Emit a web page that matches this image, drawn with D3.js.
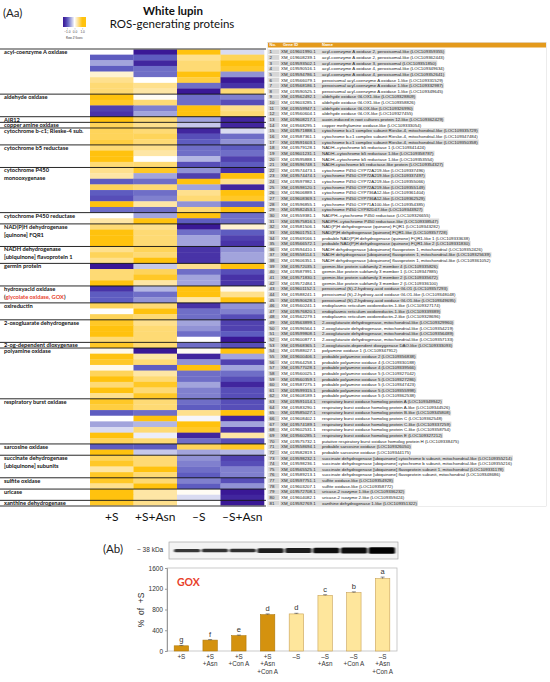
<!DOCTYPE html>
<html>
<head>
<meta charset="utf-8">
<script src="https://cdn.jsdelivr.net/npm/d3@7"></script>
<style>
  body { margin: 0; background: #fff; }
  svg { display: block; font-family: Lato, "Open Sans", sans-serif; }
</style>
</head>
<body>
<svg id="chart" width="550" height="682"></svg>
<script>
// ---- data ----
var heatColumns = ["+S", "+S+Asn", "\u2013S", "\u2013S+Asn"];

var groupLabels = [
  ["acyl-coenzyme A oxidase"], ["aldehyde oxidase"], ["AIR12"], ["copper amine oxidase"],
  ["cytochrome b-c1; Rieske-4 sub."], ["cytochrome b5 reductase"],
  ["cytochrome P450", "monooxygenase"], ["cytochrome P450 reductase"],
  ["NAD(P)H dehydrogenase", "[quinone] FQR1"], ["NADH dehydrogenase", "[ubiquinone] flavoprotein 1"],
  ["germin protein"], ["hydroxyacid oxidase", "(glycolate oxidase, GOX)"], ["oxireductin"],
  ["2-oxogluarate dehydrogenase"], ["2-og-dependent dioxygenase"], ["polyamine oxidase"],
  ["respiratory burst oxidase"], ["sarcosine oxidase"],
  ["succinate dehydrogenase", "[ubiquinone] subunits"], ["sulfite oxidase"], ["uricase"],
  ["xanthine dehydrogenase"]
];
var groupSizes = [8, 4, 1, 1, 3, 4, 8, 2, 4, 3, 4, 3, 3, 4, 1, 9, 8, 2, 4, 2, 2, 1];
var redLabel = "glycolate oxidase, GOX";

var geneIds = [
  "XM_019601990.1", "XM_019608239.1", "XM_019593502.1", "XM_019590516.1", "XM_019594786.1",
  "XM_019566079.1", "XM_019568186.1", "XM_019590525.1", "XM_019562492.1", "XM_019603285.1",
  "XM_019559947.1", "XM_019560604.1", "XM_019608217.1", "XM_019568295.1", "XM_019571888.1",
  "XM_019587361.1", "XM_019591603.1", "XM_019579128.1", "XM_019601231.1", "XM_019595888.1",
  "XM_019596748.1", "XM_019574473.1", "XM_019574474.1", "XM_019597982.1", "XM_019598120.1",
  "XM_019606889.1", "XM_019608369.1", "XM_019596855.1", "XM_019582453.1", "XM_019559381.1",
  "XM_019575816.1", "XM_019581506.1", "XM_019601751.1", "XM_019569166.1", "XM_019566572.1",
  "XM_019594410.1", "XM_019558114.1", "XM_019606351.1", "XM_019572035.1", "XM_019587991.1",
  "XM_019571830.1", "XM_019572484.1", "XM_019601152.1", "XM_019588241.1", "XM_019590628.1",
  "XM_019560241.1", "XM_019576820.1", "XM_019562279.1", "XM_019563899.1", "XM_019596564.1",
  "XM_019599808.1", "XM_019600877.1", "XM_019568365.1", "XM_019588027.1", "XM_019600406.1",
  "XM_019564258.1", "XM_019577028.1", "XM_019560025.1", "XM_019560359.1", "XM_019587275.1",
  "XM_019599315.1", "XM_019608189.1", "XM_019591014.1", "XM_019583290.1", "XM_019585027.1",
  "XM_019608402.1", "XM_019574189.1", "XM_019602531.1", "XM_019560285.1", "XM_019575732.1",
  "XM_019558694.1", "XM_019582819.1", "XM_019598232.1", "XM_019598236.1", "XM_019565525.1",
  "XM_019589213.1", "XM_019597751.1", "XM_019603207.1", "XM_019572708.1", "XM_019604082.1",
  "XM_019592769.1"
];

var geneNames = [
  "acyl-coenzyme A oxidase 2, peroxisomal-like (LOC109359355)",
  "acyl-coenzyme A oxidase 2, peroxisomal-like (LOC109362443)",
  "acyl-coenzyme A oxidase 3, peroxisomal (LOC109351850)",
  "acyl-coenzyme A oxidase 4, peroxisomal-like (LOC109349634)",
  "acyl-coenzyme A oxidase 4, peroxisomal-like (LOC109352641)",
  "peroxisomal acyl-coenzyme A oxidase 1-like (LOC109331529)",
  "peroxisomal acyl-coenzyme A oxidase 1-like (LOC109332987)",
  "peroxisomal acyl-coenzyme A oxidase 1-like (LOC109349645)",
  "aldehyde oxidase GLOX1-like (LOC109328809)",
  "aldehyde oxidase GLOX1-like (LOC109358826)",
  "aldehyde oxidase GLOX-like (LOC109326990)",
  "aldehyde oxidase GLOX-like (LOC109327455)",
  "auxin-induced in root cultures protein 12-like (LOC109362429)",
  "copper methylamine oxidase-like (LOC109333054)",
  "cytochrome b-c1 complex subunit Rieske-4, mitochondrial-like (LOC109335729)",
  "cytochrome b-c1 complex subunit Rieske-4, mitochondrial-like (LOC109347484)",
  "cytochrome b-c1 complex subunit Rieske-4, mitochondrial-like (LOC109350358)",
  "NADH--cytochrome b5 reductase 1 (LOC109341424)",
  "NADH--cytochrome b5 reductase 1-like (LOC109358787)",
  "NADH--cytochrome b5 reductase 1-like (LOC109353554)",
  "NADH-cytochrome b5 reductase-like protein (LOC109354327)",
  "cytochrome P450 CYP72A219-like (LOC109337496)",
  "cytochrome P450 CYP72A219-like (LOC109337497)",
  "cytochrome P450 CYP72A219-like (LOC109355066)",
  "cytochrome P450 CYP72A219-like (LOC109355149)",
  "cytochrome P450 CYP736A12-like (LOC109361404)",
  "cytochrome P450 CYP736A12-like (LOC109362529)",
  "cytochrome P450 CYP71A100-like (LOC109354385)",
  "cytochrome P450 CYP82D47-like (LOC109343927)",
  "NADPH--cytochrome P450 reductase (LOC109326655)",
  "NADPH--cytochrome P450 reductase-like (LOC109338547)",
  "NAD(P)H dehydrogenase (quinone) FQR1 (LOC109343282)",
  "NAD(P)H dehydrogenase [quinone] FQR1-like (LOC109357728)",
  "probable NAD(P)H dehydrogenase (quinone) FQR1-like 1 (LOC109333638)",
  "probable NAD(P)H dehydrogenase (quinone) FQR1-like 2 (LOC109331830)",
  "NADH dehydrogenase [ubiquinone] flavoprotein 1, mitochondrial (LOC109352426)",
  "NADH dehydrogenase [ubiquinone] flavoprotein 1, mitochondrial-like (LOC109325639)",
  "NADH dehydrogenase [ubiquinone] flavoprotein 1, mitochondrial-like (LOC109361052)",
  "germin-like protein subfamily 2 member 4 (LOC109335826)",
  "germin-like protein subfamily 3 member 1 (LOC109347885)",
  "germin-like protein subfamily 3 member 2 (LOC109335672)",
  "germin-like protein subfamily 3 member 2 (LOC109336100)",
  "peroxisomal (S)-2-hydroxy-acid oxidase GLO1 (LOC109357293)",
  "peroxisomal (S)-2-hydroxy-acid oxidase GLO1-like (LOC109348048)",
  "peroxisomal (S)-2-hydroxy-acid oxidase GLO1-like (LOC109349695)",
  "endoplasmic reticulum oxidoreductin-1-like (LOC109327174)",
  "endoplasmic reticulum oxidoreductin-1-like (LOC109339389)",
  "endoplasmic reticulum oxidoreductin-2-like (LOC109328696)",
  "2-oxoglutarate dehydrogenase, mitochondrial-like (LOC109329960)",
  "2-oxoglutarate dehydrogenase, mitochondrial-like (LOC109354219)",
  "2-oxoglutarate dehydrogenase, mitochondrial-like (LOC109356489)",
  "2-oxoglutarate dehydrogenase, mitochondrial-like (LOC109357133)",
  "2-oxoglutarate-dependent dioxygenase DAO-like (LOC109333093)",
  "polyamine oxidase 1 (LOC109347912)",
  "probable polyamine oxidase 2 (LOC109356838)",
  "probable polyamine oxidase 4 (LOC109330188)",
  "probable polyamine oxidase 4 (LOC109339566)",
  "probable polyamine oxidase 5 (LOC109327042)",
  "probable polyamine oxidase 5 (LOC109327286)",
  "probable polyamine oxidase 5 (LOC109347423)",
  "probable polyamine oxidase 5 (LOC109355998)",
  "probable polyamine oxidase 5 (LOC109362538)",
  "respiratory burst oxidase homolog protein A (LOC109349942)",
  "respiratory burst oxidase homolog protein A-like (LOC109344526)",
  "respiratory burst oxidase homolog protein B-like (LOC109345808)",
  "respiratory burst oxidase homolog protein C (LOC109362548)",
  "respiratory burst oxidase homolog protein C-like (LOC109337259)",
  "respiratory burst oxidase homolog protein C-like (LOC109358754)",
  "respiratory burst oxidase homolog protein E (LOC109327212)",
  "putative respiratory burst oxidase homolog protein H (LOC109338475)",
  "probable sarcosine oxidase (LOC109326050)",
  "probable sarcosine oxidase (LOC109344175)",
  "succinate dehydrogenase [ubiquinone] cytochrome b subunit, mitochondrial-like (LOC109355214)",
  "succinate dehydrogenase [ubiquinone] cytochrome b subunit, mitochondrial-like (LOC109355216)",
  "succinate dehydrogenase [ubiquinone] flavoprotein subunit 1, mitochondrial (LOC109331178)",
  "succinate dehydrogenase [ubiquinone] flavoprotein subunit, mitochondrial (LOC109348686)",
  "sulfite oxidase-like (LOC109354928)",
  "sulfite oxidase-like (LOC109358772)",
  "uricase-2 isozyme 1-like (LOC109336232)",
  "uricase-2 isozyme 2-like (LOC109359424)",
  "xanthine dehydrogenase 1-like (LOC109351322)"
];

// row z-scores, columns: +S, +S+Asn, -S, -S+Asn
var zValues = [
  [0, -1.4, 1.2, -0.2], [-0.9, -0.9, 0.5, 0.7], [-0.5, -1.3, 0.6, 1.0], [-0.9, -0.8, 0.6, 0.9],
  [0.2, -0.8, 1.2, -0.6], [0.5, 0, 0.8, -1.4], [0.6, 0.5, -0.8, -1.2], [0.6, 0.4, -1.4, 0.6],
  [1.2, 0.05, -0.8, -0.7], [0.9, 0.6, -0.8, -1.0], [-1.1, -0.7, 1.1, 0.5], [-1.2, -0.5, 1.0, 0.6],
  [1.0, 0.6, -0.5, -1.3], [0.7, 0.5, -0.3, -1.3], [0.7, 0.6, -1.3, -0.2], [0.7, 0.7, -1.0, -0.8],
  [0.8, 0.6, -0.9, -0.6], [0.6, 0.5, -0.8, -0.9], [1.2, 0.4, -0.8, -0.8], [1.2, 0, -0.4, -1.1],
  [0.6, 0.6, -1.0, -0.9], [0.5, 0.9, -0.6, -1.2], [0.4, -0.5, -1.1, 1.1], [-0.9, -0.8, 1.2, 0.5],
  [0.7, 0.6, -0.5, -1.3], [-0.9, -0.8, 0.5, 1.1], [-1.0, -0.7, 0.6, 0.9], [1.2, 0.4, -0.6, -0.9],
  [-0.8, -0.8, 0.6, 1.0], [0, -0.5, 1.1, -0.8], [0.4, 1.0, -0.9, -0.8], [0.6, 0.5, -1.4, 0.2],
  [1.1, 0.6, -0.8, -0.9], [1.1, 0.6, -0.5, -1.1], [1.0, 0.6, -0.5, -1.2], [0.5, 0.7, -1.2, -0.6],
  [0.7, 0.6, -1.2, -0.5], [0.5, 1.0, -1.2, -0.5], [-1.4, -0.3, 0.5, 1.0], [0.6, 0.7, -0.8, -1.0],
  [0.6, 0.9, -0.5, -1.2], [1.0, 0.4, -0.5, -1.2], [-1.2, -0.4, 1.1, 0.1], [-0.9, -0.8, 1.1, 0.5],
  [-0.9, -0.6, 0.4, 1.1], [0.7, 0.6, -1.2, -0.6], [0, 1.1, -0.8, -0.7], [0.7, 0.6, -0.8, -1.0],
  [0.9, 0.5, -0.5, -1.1], [1.0, 0.6, -0.6, -1.1], [1.0, 0.6, -0.8, -0.9], [0.6, 0.6, 0, -1.4],
  [0.9, 0.6, -0.8, -1.0], [0.1, -1.4, 0.05, 1.1], [1.0, 0.4, -1.3, -0.5], [0.9, 0.6, -0.6, -1.1],
  [0.1, -0.9, 1.2, -0.5], [0.7, 0.4, -0.8, -0.8], [1.0, 0.6, -0.8, -1.0], [0.6, 0.9, -0.5, -1.3],
  [1.0, 0.6, -0.7, -1.0], [0.5, 0.9, -0.7, -1.0], [0.9, 0.6, -0.8, -1.0], [0.8, 0.6, -0.9, -1.0],
  [-0.9, -0.8, 0.5, 1.0], [0, 1.1, -0.05, -1.3], [-0.5, -0.4, 1.2, -0.5], [-0.2, 0.6, 0.9, -1.2],
  [1.0, -0.1, -1.3, 0.4], [0.7, 0.6, -0.8, -1.0], [-0.9, -0.9, 0.7, 0.9], [1.2, -0.3, -0.5, -0.4],
  [0.7, 0.6, -0.6, -1.1], [0.9, 0.6, -0.7, -1.0], [0.4, 1.1, -0.8, -0.7], [0.9, 0.6, -0.9, -0.7],
  [0.9, 0.6, -0.7, -1.0], [0.5, 1.0, -0.9, -0.6], [1.0, 0.4, 0.05, -1.4], [1.0, 0.4, -0.2, -1.3],
  [0.9, 0.5, 0, -1.4]
];

var legendTicks = [-1, 0, 1];

var barConditions = ["+S", "+S\n+Asn", "+S\n+Con A", "+S\n+Asn\n+Con A",
                     "\u2013S", "\u2013S\n+Asn", "\u2013S\n+Con A", "\u2013S\n+Asn\n+Con A"];
var barValues = [100, 210, 295, 700, 715, 1070, 1125, 1395];
var barErrors = [8, 10, 12, 15, 12, 15, 15, 30];
var barLetters = ["g", "f", "e", "d", "d", "c", "b", "a"];
var barTicks = [0, 400, 800, 1200, 1600];

// ---- setup ----
var svg = d3.select("#chart");
var defs = svg.append("defs");

var color = d3.scaleLinear()
  .domain([-1.4, -0.9, -0.45, 0, 0.45, 1.0])
  .range(["#3a1896", "#5e5cc0", "#aaaddf", "#ffffff", "#fee39a", "#ffc20e"])
  .clamp(true);

// titles
svg.append("text").attr("x", 3).attr("y", 17).attr("font-size", 11.5).attr("fill", "#222").text("(Aa)");
svg.append("text").attr("x", 173).attr("y", 15).attr("text-anchor", "middle")
  .attr("font-size", 11.5).attr("font-weight", "bold").attr("fill", "#111").text("White lupin");
svg.append("text").attr("x", 172).attr("y", 28).attr("text-anchor", "middle")
  .attr("font-size", 11.5).attr("fill", "#111").text("ROS-generating proteins");

// color legend
var legendX = d3.scaleLinear().domain([-1.5, 1.5]).range([63, 86]);
var grad = defs.append("linearGradient").attr("id", "zgrad");
d3.range(-1.5, 1.51, 0.25).forEach(function(v){
  grad.append("stop").attr("offset", (v + 1.5) / 3).attr("stop-color", color(v));
});
svg.append("rect").attr("x", legendX(-1.5)).attr("y", 17).attr("width", legendX(1.5) - legendX(-1.5))
  .attr("height", 10).attr("fill", "url(#zgrad)");
var legendAxis = svg.append("g").attr("transform", "translate(0,28)")
  .call(d3.axisBottom(legendX).tickValues(legendTicks).tickSize(1.5).tickPadding(1));
legendAxis.select(".domain").remove();
legendAxis.selectAll("text").attr("font-size", 3.2).attr("fill", "#444");
legendAxis.selectAll("line").attr("stroke", "#666").attr("stroke-width", 0.3);
svg.append("text").attr("x", 74.5).attr("y", 39).attr("text-anchor", "middle")
  .attr("font-size", 3).attr("fill", "#444").text("Row Z-Score");

// ---- heatmap ----
var x = d3.scaleBand().domain(d3.range(heatColumns.length)).range([90, 264]);
var y = d3.scaleBand().domain(d3.range(zValues.length)).range([49, 506]);

var cells = svg.append("g");
zValues.forEach(function(row, i){
  cells.selectAll(null).data(row).enter().append("rect")
    .attr("x", function(d, j){ return x(j); })
    .attr("y", y(i))
    .attr("width", x.bandwidth() + 0.3)
    .attr("height", y.bandwidth() + 0.3)
    .attr("fill", function(d){ return color(d); });
});

// group starts
var groupStarts = [];
groupSizes.reduce(function(acc, n){ groupStarts.push(acc); return acc + n; }, 0);

var lines = svg.append("g");
groupStarts.forEach(function(s, k){
  if (k === 0) return;
  lines.append("line").attr("x1", 0).attr("x2", 266)
    .attr("y1", y(s)).attr("y2", y(s)).attr("stroke", "#111").attr("stroke-width", 0.9);
});
lines.append("line").attr("x1", 0).attr("x2", 266).attr("y1", y(0)).attr("y2", y(0))
  .attr("stroke", "#777").attr("stroke-width", 1.4);
lines.append("line").attr("x1", 0).attr("x2", 266).attr("y1", y.range()[1]).attr("y2", y.range()[1])
  .attr("stroke", "#777").attr("stroke-width", 1.4);

// group labels
var labels = svg.append("g").attr("font-size", 5.7).attr("font-weight", "bold").attr("fill", "#111");
groupLabels.forEach(function(lns, k){
  lns.forEach(function(t, li){
    var txt = labels.append("text").attr("x", 4).attr("y", y(groupStarts[k]) + 5 + li * 8);
    var p = t.indexOf(redLabel);
    if (p >= 0) {
      txt.append("tspan").text(t.slice(0, p));
      txt.append("tspan").attr("fill", "#e8412c").text(redLabel);
      txt.append("tspan").text(t.slice(p + redLabel.length));
    } else {
      txt.text(t);
    }
  });
});

// column labels
svg.append("g").selectAll("text").data(heatColumns).enter().append("text")
  .attr("x", function(d, j){ return x(j) + x.bandwidth() / 2; })
  .attr("y", 521)
  .attr("text-anchor", "middle")
  .attr("font-size", 12)
  .attr("fill", "#111")
  .text(function(d){ return d; });

// ---- gene table ----
var table = svg.append("g")
  .style("font-family", "'Liberation Sans', Arial, sans-serif")
  .attr("font-size", 4.4)
  .attr("fill", "#222");

table.append("rect").attr("x", 268).attr("y", 42.5).attr("width", 278).attr("height", 5)
  .attr("fill", "#e49a1c");
[["No.", 269.5], ["Gene ID", 283], ["Name", 322]].forEach(function(h){
  table.append("text").attr("x", h[1]).attr("y", 46.3).attr("fill", "#fff")
    .attr("font-weight", "bold").attr("font-size", 4).text(h[0]);
});

var rows = table.selectAll("g.row").data(geneIds).enter().append("g")
  .attr("class", "row")
  .attr("transform", function(d, i){ return "translate(0," + (y(i) + y.bandwidth() / 2) + ")"; });

rows.append("rect").attr("x", 268).attr("y", -2.6).attr("width", 11.5).attr("height", 5.2)
  .attr("fill", "#d6d6d6").attr("stroke", "#fff").attr("stroke-width", 0.4);
rows.append("text").attr("x", 269.5).attr("y", 1.5).text(function(d, i){ return i + 1; });
rows.append("text").attr("x", 281).attr("y", 1.5).text(function(d){ return d; });
rows.append("text").attr("class", "gname").attr("x", 322).attr("y", 1.5)
  .text(function(d, i){ return geneNames[i]; });

rows.each(function(d, i){
  if (i % 2 !== 0) return;
  var g = d3.select(this);
  var w = g.select(".gname").node().getComputedTextLength();
  g.insert("rect", "text:nth-of-type(2)")
    .attr("x", 279.5).attr("y", -2.6).attr("width", 322 + w + 1 - 279.5).attr("height", 5.2)
    .attr("fill", "#dcdcdc");
});

table.append("rect").attr("x", 267.5).attr("y", 42.5).attr("width", 279).attr("height", y.range()[1] - 42)
  .attr("fill", "none").attr("stroke", "#d0d0d0").attr("stroke-width", 0.4);

// ---- (Ab) western blot + bar chart ----
var bx = d3.scaleBand().domain(d3.range(barValues.length)).range([167, 397])
  .paddingInner(0.5).paddingOuter(0.25);
var by = d3.scaleLinear().domain([0, 1600]).range([651, 568]);

var ab = svg.append("g").style("font-family", "'Liberation Sans', Arial, sans-serif");

ab.append("text").attr("x", 103).attr("y", 553).attr("font-size", 11.5)
  .style("font-family", "Lato, sans-serif").attr("fill", "#222").text("(Ab)");
ab.append("text").attr("x", 137).attr("y", 552).attr("font-size", 6.5).attr("fill", "#333").text("~ 38 kDa");

// blot
var blur = defs.append("filter").attr("id", "blotblur")
  .attr("x", "-20%").attr("y", "-100%").attr("width", "140%").attr("height", "300%");
blur.append("feGaussianBlur").attr("stdDeviation", "1.2 0.6");

ab.append("rect").attr("x", 169).attr("y", 542).attr("width", 229).attr("height", 17)
  .attr("fill", "#f3f3f3").attr("stroke", "#9a9a9a").attr("stroke-width", 0.6);
var lane = d3.scaleBand().domain(d3.range(barValues.length)).range([173, 395]).paddingInner(0.02);
var bandH = d3.scaleLinear().domain([0, 1400]).range([3, 6.5]);
var bandO = d3.scaleLinear().domain([0, 1400]).range([0.75, 1]);
ab.append("g").attr("filter", "url(#blotblur)").selectAll("rect").data(barValues).enter().append("rect")
  .attr("x", function(d, i){ return lane(i) + 1; })
  .attr("width", lane.bandwidth() - 1)
  .attr("y", function(d){ return 550.5 - bandH(d) / 2; })
  .attr("height", function(d){ return bandH(d); })
  .attr("rx", 1.5)
  .attr("fill", "#000")
  .attr("opacity", function(d){ return bandO(d); });

// plot frame
ab.append("rect").attr("x", 167).attr("y", 568).attr("width", 230).attr("height", 83)
  .attr("fill", "none").attr("stroke", "#bdbdbd").attr("stroke-width", 0.8);

var yAxis = ab.append("g").attr("transform", "translate(167,0)")
  .call(d3.axisLeft(by).tickValues(barTicks).tickFormat(d3.format("d")).tickSize(2).tickPadding(2));
yAxis.select(".domain").attr("stroke", "#999");
yAxis.selectAll("line").attr("stroke", "#999");
yAxis.selectAll("text").attr("font-size", 6.5).attr("fill", "#333")
  .style("font-family", "'Liberation Sans', Arial, sans-serif");

ab.append("text").attr("transform", "translate(144,610) rotate(-90)")
  .attr("text-anchor", "middle").attr("font-size", 8.5).attr("fill", "#333")
  .attr("xml:space", "preserve").text("%  of  +S");

ab.append("text").attr("x", 177).attr("y", 586).attr("font-size", 10.5).attr("font-weight", "bold")
  .attr("fill", "#e8402a").style("font-family", "Lato, sans-serif").text("GOX");

// bars
ab.append("g").selectAll("rect").data(barValues).enter().append("rect")
  .attr("x", function(d, i){ return bx(i); })
  .attr("y", function(d){ return by(d); })
  .attr("width", bx.bandwidth())
  .attr("height", function(d){ return by(0) - by(d); })
  .attr("fill", function(d, i){ return barConditions[i].charAt(0) === "+" ? "#d4920f" : "#fee69c"; })
  .attr("stroke", function(d, i){ return barConditions[i].charAt(0) === "+" ? "#b07808" : "#c9a154"; })
  .attr("stroke-width", 0.6);

// error bars
var err = ab.append("g").attr("stroke", "#444").attr("stroke-width", 0.6);
barValues.forEach(function(v, i){
  var cx = bx(i) + bx.bandwidth() / 2;
  err.append("line").attr("x1", cx).attr("x2", cx).attr("y1", by(v)).attr("y2", by(v + barErrors[i]));
  err.append("line").attr("x1", cx - 2).attr("x2", cx + 2)
    .attr("y1", by(v + barErrors[i])).attr("y2", by(v + barErrors[i]));
});

// significance letters
ab.append("g").selectAll("text").data(barLetters).enter().append("text")
  .attr("x", function(d, i){ return bx(i) + bx.bandwidth() / 2; })
  .attr("y", function(d, i){ return by(barValues[i] + barErrors[i]) - 3; })
  .attr("text-anchor", "middle").attr("font-size", 7.5).attr("fill", "#333")
  .text(function(d){ return d; });

// x labels
var xl = ab.append("g").attr("font-size", 6.3).attr("fill", "#333");
barConditions.forEach(function(c, i){
  var t = xl.append("text").attr("text-anchor", "middle");
  c.split("\n").forEach(function(s, k){
    t.append("tspan").attr("x", bx(i) + bx.bandwidth() / 2).attr("y", 659 + k * 7.3).text(s);
  });
});
</script>
</body>
</html>
